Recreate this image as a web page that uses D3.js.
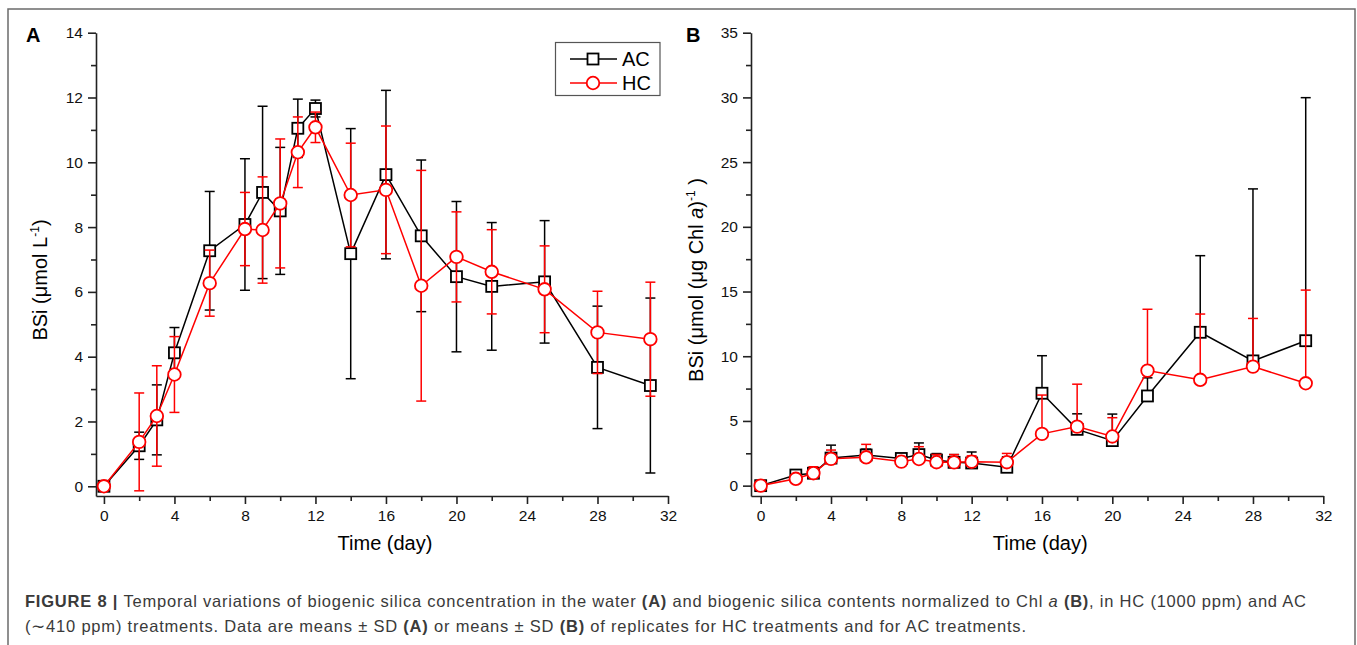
<!DOCTYPE html>
<html>
<head>
<meta charset="utf-8">
<script src="https://cdn.jsdelivr.net/npm/d3@7"></script>
<style>
  body { margin: 0; background: #fff; }
  svg { display: block; font-family: "Liberation Sans", Arial, sans-serif; }
</style>
</head>
<body>
<svg id="fig" width="1357" height="645"></svg>
<script>
// sampling days (same for both panels)
var days = [0, 2, 3, 4, 6, 8, 9, 10, 11, 12, 14, 16, 18, 20, 22, 25, 28, 31];

// panel A: BSi (umol L-1), mean and SD
var acA   = [0, 1.25, 2.05, 4.12, 7.27, 8.08, 9.07, 8.5, 11.05, 11.66, 7.18, 9.62, 7.73, 6.47, 6.17, 6.31, 3.67, 3.11];
var acSdA = [0, 0.42, 1.08, 0.78, 1.83, 2.03, 2.66, 1.96, 0.9, 0.26, 3.86, 2.6, 2.34, 2.32, 1.97, 1.89, 1.89, 2.7];
var hcA   = [0, 1.37, 2.17, 3.45, 6.27, 7.94, 7.91, 8.73, 10.31, 11.08, 8.99, 9.15, 6.19, 7.08, 6.62, 6.08, 4.75, 4.54];
var hcSdA = [0, 1.51, 1.55, 1.17, 1.02, 1.13, 1.64, 1.99, 1.09, 0.47, 1.6, 1.97, 3.56, 1.39, 1.3, 1.34, 1.27, 1.76];

// panel B: BSi (umol (ug Chl a)-1), mean and SD (only the upper bar is drawn)
var acB   = [0, 0.82, 0.96, 2.13, 2.37, 2.1, 2.4, 1.98, 1.8, 1.75, 1.42, 7.14, 4.35, 3.48, 6.93, 11.85, 9.64, 11.2];
var acSdB = [0, 0.15, 0.15, 1.0, 0.45, 0.2, 0.9, 0.5, 0.6, 0.85, 0.8, 2.9, 1.2, 2.05, 1.4, 5.92, 13.29, 18.78];
var hcB   = [0, 0.53, 0.96, 2.07, 2.19, 1.86, 2.06, 1.81, 1.8, 1.85, 1.81, 4.0, 4.56, 3.8, 8.89, 8.18, 9.2, 7.91];
var hcSdB = [0, 0.25, 0.5, 0.68, 1.0, 0.25, 0.95, 0.6, 0.6, 0.45, 0.68, 3.0, 3.28, 1.45, 4.74, 5.08, 3.72, 7.2];

var xTicks = [0, 4, 8, 12, 16, 20, 24, 28, 32];
var xMinor = [2, 6, 10, 14, 18, 22, 26, 30];
var yTicksA = [0, 2, 4, 6, 8, 10, 12, 14];
var yMinorA = [1, 3, 5, 7, 9, 11, 13];
var yTicksB = [0, 5, 10, 15, 20, 25, 30, 35];
var yMinorB = [2.5, 7.5, 12.5, 17.5, 22.5, 27.5, 32.5];

var seriesNames = ["AC", "HC"];
var colors = { AC: "#000000", HC: "#ff0000" };

var svg = d3.select("#fig");

// outer frame of the figure
svg.append("rect")
  .attr("x", 8).attr("y", 9)
  .attr("width", 1347).attr("height", 660)
  .attr("fill", "none")
  .attr("stroke", "#6b6b6b")
  .attr("stroke-width", 1.5);

function panel(opt) {
  var x = d3.scaleLinear().domain(opt.xDomain).range(opt.xRange);
  var y = d3.scaleLinear().domain(opt.yDomain).range(opt.yRange);
  var g = svg.append("g");

  // axes, major ticks with labels
  var ax = g.append("g")
    .attr("transform", "translate(0," + opt.yRange[0] + ")")
    .call(d3.axisBottom(x).tickValues(xTicks).tickSize(8).tickSizeOuter(0).tickPadding(6));
  ax.selectAll("text").style("font-size", "15.5px").attr("fill", "#111");
  g.append("g")
    .attr("transform", "translate(0," + opt.yRange[0] + ")")
    .call(d3.axisBottom(x).tickValues(xMinor).tickSize(5).tickFormat(""))
    .select(".domain").remove();

  var ay = g.append("g")
    .attr("transform", "translate(" + opt.xRange[0] + ",0)")
    .call(d3.axisLeft(y).tickValues(opt.yTicks).tickSize(8).tickSizeOuter(0).tickPadding(5));
  ay.selectAll("text").style("font-size", "15.5px").attr("fill", "#111");
  g.append("g")
    .attr("transform", "translate(" + opt.xRange[0] + ",0)")
    .call(d3.axisLeft(y).tickValues(opt.yMinor).tickSize(5).tickFormat(""))
    .select(".domain").remove();

  g.selectAll(".domain, .tick line").attr("stroke", "#222").attr("stroke-width", 1.6);

  // axis titles
  g.append("text")
    .attr("x", (opt.xRange[0] + opt.xRange[1]) / 2 + 3)
    .attr("y", 550)
    .attr("text-anchor", "middle")
    .style("font-size", "20px")
    .text("Time (day)");

  var yt = g.append("text")
    .attr("transform", "translate(" + opt.yTitleX + ",280) rotate(-90)")
    .attr("text-anchor", "middle")
    .style("font-size", "20px");
  opt.yTitle(yt);

  // panel letter
  g.append("text")
    .attr("x", opt.letterX).attr("y", 42)
    .style("font-size", "20px").style("font-weight", "bold")
    .text(opt.letter);

  var data = {
    AC: days.map(function(d, i) { return { d: d, v: opt.ac[i], sd: opt.acSd[i] }; }),
    HC: days.map(function(d, i) { return { d: d, v: opt.hc[i], sd: opt.hcSd[i] }; })
  };

  var line = d3.line().x(function(p) { return x(p.d); }).y(function(p) { return y(p.v); });

  seriesNames.forEach(function(name) {
    var c = colors[name];
    var pts = data[name];
    var s = g.append("g");

    // error bars
    var eb = s.selectAll(".eb").data(pts).enter().append("g");
    eb.append("line")
      .attr("x1", function(p) { return x(p.d); })
      .attr("x2", function(p) { return x(p.d); })
      .attr("y1", function(p) { return y(opt.twoSided ? p.v - p.sd : p.v); })
      .attr("y2", function(p) { return y(p.v + p.sd); })
      .attr("stroke", c).attr("stroke-width", 1.5);
    eb.append("line")
      .attr("x1", function(p) { return x(p.d) - 5; })
      .attr("x2", function(p) { return x(p.d) + 5; })
      .attr("y1", function(p) { return y(p.v + p.sd); })
      .attr("y2", function(p) { return y(p.v + p.sd); })
      .attr("stroke", c).attr("stroke-width", 1.5);
    if (opt.twoSided) {
      eb.append("line")
        .attr("x1", function(p) { return x(p.d) - 5; })
        .attr("x2", function(p) { return x(p.d) + 5; })
        .attr("y1", function(p) { return y(p.v - p.sd); })
        .attr("y2", function(p) { return y(p.v - p.sd); })
        .attr("stroke", c).attr("stroke-width", 1.5);
    }

    s.append("path").datum(pts)
      .attr("d", line)
      .attr("fill", "none")
      .attr("stroke", c).attr("stroke-width", 1.5);

    if (name === "AC") {
      s.selectAll(".m").data(pts).enter().append("rect")
        .attr("x", function(p) { return x(p.d) - 5.5; })
        .attr("y", function(p) { return y(p.v) - 5.5; })
        .attr("width", 11).attr("height", 11)
        .attr("fill", "#fff").attr("stroke", c).attr("stroke-width", 1.8);
    } else {
      s.selectAll(".m").data(pts).enter().append("circle")
        .attr("cx", function(p) { return x(p.d); })
        .attr("cy", function(p) { return y(p.v); })
        .attr("r", 6.3)
        .attr("fill", "#fff").attr("stroke", c).attr("stroke-width", 1.8);
    }
  });
  return g;
}

var gA = panel({
  xDomain: [-0.45, 32], xRange: [96, 668],
  yDomain: [-0.3, 14], yRange: [496, 32.7],
  yTicks: yTicksA, yMinor: yMinorA,
  ac: acA, acSd: acSdA, hc: hcA, hcSd: hcSdA,
  twoSided: true, letter: "A", letterX: 26, yTitleX: 47,
  yTitle: function(t) {
    t.append("tspan").text("BSi (\u03bcmol L");
    t.append("tspan").attr("dy", -8).style("font-size", "12px").text("-1");
    t.append("tspan").attr("dy", 8).text(")");
  }
});

panel({
  xDomain: [-0.55, 32], xRange: [751, 1323.3],
  yDomain: [-0.8, 35], yRange: [496, 32.7],
  yTicks: yTicksB, yMinor: yMinorB,
  ac: acB, acSd: acSdB, hc: hcB, hcSd: hcSdB,
  twoSided: false, letter: "B", letterX: 686, yTitleX: 703,
  yTitle: function(t) {
    t.append("tspan").text("BSi (\u03bcmol (\u03bcg Chl ");
    t.append("tspan").style("font-style", "italic").text("a");
    t.append("tspan").text(")");
    t.append("tspan").attr("dy", -8).style("font-size", "12px").text("-1");
    t.append("tspan").attr("dy", 8).text(" )");
  }
});

// legend in panel A
var lg = gA.append("g");
lg.append("rect")
  .attr("x", 555.5).attr("y", 42.5).attr("width", 104.5).attr("height", 53)
  .attr("fill", "#fff").attr("stroke", "#555").attr("stroke-width", 1.2);
seriesNames.forEach(function(name, i) {
  var cy = 59 + i * 24;
  lg.append("line").attr("x1", 570).attr("x2", 617).attr("y1", cy).attr("y2", cy)
    .attr("stroke", colors[name]).attr("stroke-width", 1.5);
  if (name === "AC") {
    lg.append("rect").attr("x", 593 - 5.5).attr("y", cy - 5.5).attr("width", 11).attr("height", 11)
      .attr("fill", "#fff").attr("stroke", colors[name]).attr("stroke-width", 1.8);
  } else {
    lg.append("circle").attr("cx", 593).attr("cy", cy).attr("r", 6.3)
      .attr("fill", "#fff").attr("stroke", colors[name]).attr("stroke-width", 1.8);
  }
  lg.append("text").attr("x", 622).attr("y", cy + 7)
    .style("font-size", "20px").text(name);
});

// caption
var cap1 = svg.append("text").attr("x", 25).attr("y", 607)
  .attr("fill", "#3a3a3a").style("font-size", "16.5px")
  .attr("textLength", 1281).attr("lengthAdjust", "spacing");
cap1.append("tspan").style("font-weight", "bold").text("FIGURE 8 | ");
cap1.append("tspan").text("Temporal variations of biogenic silica concentration in the water ");
cap1.append("tspan").style("font-weight", "bold").text("(A)");
cap1.append("tspan").text(" and biogenic silica contents normalized to Chl ");
cap1.append("tspan").style("font-style", "italic").text("a");
cap1.append("tspan").text(" ");
cap1.append("tspan").style("font-weight", "bold").text("(B)");
cap1.append("tspan").text(", in HC (1000 ppm) and AC");

var cap2 = svg.append("text").attr("x", 25).attr("y", 632)
  .attr("fill", "#3a3a3a").style("font-size", "16.5px")
  .attr("textLength", 1001).attr("lengthAdjust", "spacing");
cap2.append("tspan").text("(\u223c410 ppm) treatments. Data are means \u00b1 SD ");
cap2.append("tspan").style("font-weight", "bold").text("(A)");
cap2.append("tspan").text(" or means \u00b1 SD ");
cap2.append("tspan").style("font-weight", "bold").text("(B)");
cap2.append("tspan").text(" of replicates for HC treatments and for AC treatments.");
</script>
</body>
</html>
